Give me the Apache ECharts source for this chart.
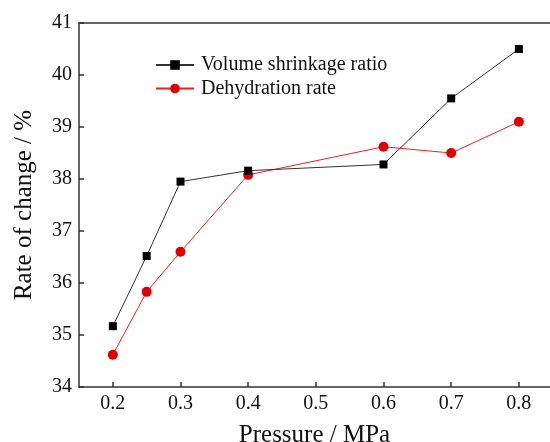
<!DOCTYPE html>
<html>
<head>
<meta charset="utf-8">
<script src="https://cdn.jsdelivr.net/npm/echarts@6/dist/echarts.min.js"></script>
<style>
  html, body { margin: 0; padding: 0; background: #fff; }
  #chart { width: 550px; height: 442px; }
</style>
</head>
<body>
<div id="chart"></div>
<script>
// values
const pressure = [0.2, 0.25, 0.3, 0.4, 0.6, 0.7, 0.8];
const volumeShrinkage = [35.17, 36.52, 37.95, 38.16, 38.28, 39.55, 40.5];
const dehydrationRate = [34.62, 35.83, 36.6, 38.08, 38.62, 38.5, 39.1];
const xTicks = [0.2, 0.3, 0.4, 0.5, 0.6, 0.7, 0.8];
const seriesNames = ["Volume shrinkage ratio", "Dehydration rate"];

const font = "'Liberation Serif', 'Times New Roman', serif";
const axisColor = "#333";

const chart = echarts.init(document.getElementById("chart"));

const toPoints = (ys) => ys.map((y, i) => [pressure[i], y]);

// the plot frame is cut off on the right in the original
const xMin = 0.15;
const xMax = 0.846;

chart.setOption({
  animation: false,
  textStyle: { fontFamily: font, color: "#111" },
  grid: {
    left: 79,
    right: 0,
    top: 23,
    bottom: 55,
    outerBoundsMode: "none"
  },
  legend: {
    orient: "vertical",
    left: 150,
    top: 50,
    itemWidth: 38,
    itemHeight: 12,
    itemGap: 3.5,
    textStyle: { fontFamily: font, fontSize: 20, color: "#111", lineHeight: 20, padding: [0, 0, 0, 2] },
    data: seriesNames
  },
  xAxis: [
    {
      type: "value",
      min: xMin,
      max: xMax,
      name: "Pressure / MPa",
      nameLocation: "middle",
      nameGap: 36,
      nameTextStyle: { fontFamily: font, fontSize: 25, color: "#111" },
      axisLine: { lineStyle: { color: axisColor, width: 1.5 } },
      axisTick: { inside: true, length: 5, customValues: xTicks, lineStyle: { color: axisColor, width: 1.5 } },
      axisLabel: {
        customValues: xTicks,
        formatter: (v) => v.toFixed(1),
        fontFamily: font,
        fontSize: 20,
        color: "#111",
        margin: 7
      },
      splitLine: { show: false }
    },
    {
      // top frame line
      type: "value",
      position: "top",
      min: xMin,
      max: xMax,
      axisLine: { show: true, lineStyle: { color: axisColor, width: 1.5 } },
      axisTick: { show: false },
      axisLabel: { show: false },
      splitLine: { show: false }
    }
  ],
  yAxis: {
    type: "value",
    min: 34,
    max: 41,
    interval: 1,
    name: "Rate of change / %",
    nameLocation: "middle",
    nameGap: 42,
    nameTextStyle: { fontFamily: font, fontSize: 25, color: "#111" },
    axisLine: { show: true, lineStyle: { color: axisColor, width: 1.5 } },
    axisTick: { show: true, inside: true, length: 5, lineStyle: { color: axisColor, width: 1.5 } },
    axisLabel: { fontFamily: font, fontSize: 20, color: "#111", margin: 7 },
    splitLine: { show: false }
  },
  series: [
    {
      name: seriesNames[0],
      type: "line",
      data: toPoints(volumeShrinkage),
      symbol: "rect",
      symbolSize: 8,
      lineStyle: { color: "#333", width: 1 },
      itemStyle: { color: "#000" },
      z: 3
    },
    {
      name: seriesNames[1],
      type: "line",
      data: toPoints(dehydrationRate),
      symbol: "circle",
      symbolSize: 10,
      lineStyle: { color: "#f02020", width: 1 },
      itemStyle: { color: "#e00000" },
      z: 2
    }
  ]
});
</script>
</body>
</html>
